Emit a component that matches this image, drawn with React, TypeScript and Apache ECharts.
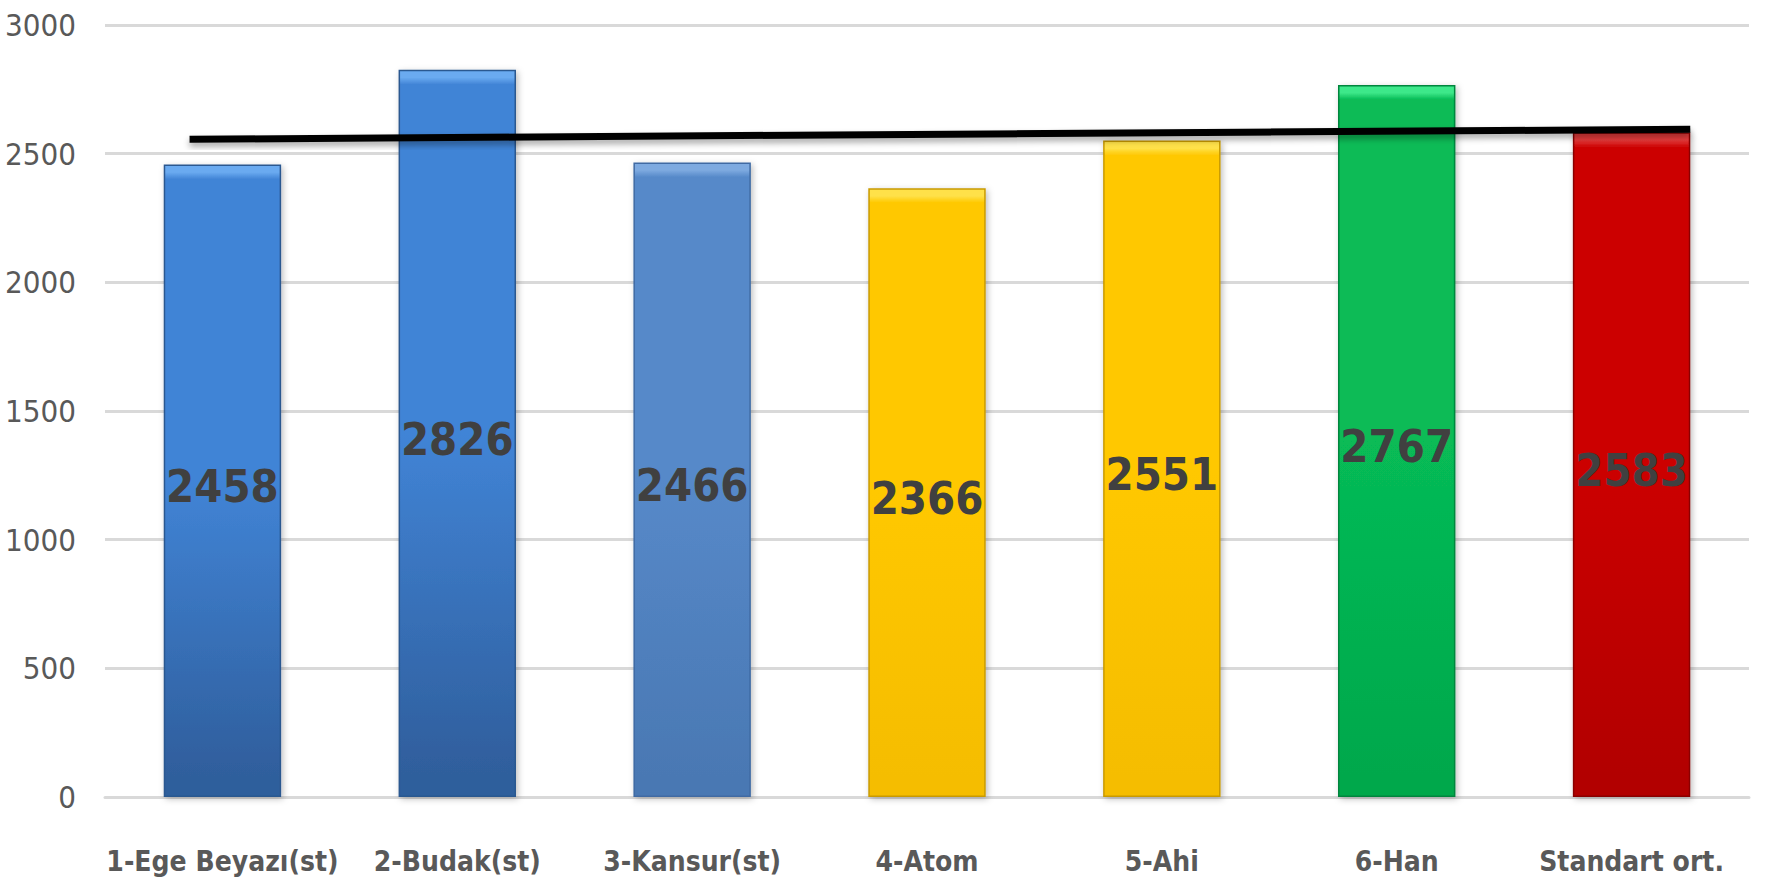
import React, { useEffect, useRef } from "react";
import * as echarts from "echarts";

const categories = [
  "1-Ege Beyazı(st)",
  "2-Budak(st)",
  "3-Kansur(st)",
  "4-Atom",
  "5-Ahi",
  "6-Han",
  "Standart ort.",
];
const values = [2458, 2826, 2466, 2366, 2551, 2767, 2583];
const yTicks = [0, 500, 1000, 1500, 2000, 2500, 3000];
// trend line end points (x in category units, centre of first category = 0)
const trendX = [-0.14, 6.25];
const trendY = [2556, 2595];

// bar colours: [highlight, main, dark]
const barColors = [
  ["#6aaaf0", "#4184d6", "#2f5e9c"],
  ["#6aaaf0", "#4184d6", "#2f5e9c"],
  ["#7eaae0", "#5689c9", "#4a78b3"],
  ["#ffe14a", "#ffc800", "#f5bd00"],
  ["#ffe14a", "#ffc800", "#f5bd00"],
  ["#3ee88a", "#07bb56", "#00a84c"],
  ["#e43a3a", "#cc0505", "#b20000"],
];
const borderColors = ["#2a5890", "#2a5890", "#3f6aa3", "#c99a00", "#c99a00", "#00853c", "#8a0000"];

const FONT = '"Liberation Sans Narrow", "DejaVu Sans Condensed", "Roboto", sans-serif';

export default function App() {
  const ref = useRef<HTMLDivElement>(null);
  useEffect(() => {
    document.body.style.margin = "0";
    const chart = echarts.init(ref.current!, null, { renderer: "svg" });
    const H = 887;
    const gridTop = 25,
      gridBottom = 90;
    const plotH = H - gridTop - gridBottom;
    const yMax = 3000;
    const barData = values.map((v, i) => {
      const px = (v / yMax) * plotH;
      const b = Math.min(0.2, 14 / px);
      const c = barColors[i];
      return {
        value: v,
        itemStyle: {
          color: new echarts.graphic.LinearGradient(0, 0, 0, 1, [
            { offset: 0, color: c[0] },
            { offset: b * 0.5, color: c[0] },
            { offset: b, color: c[1] },
            { offset: 0.5, color: c[1] },
            { offset: 0.97, color: c[2] },
            { offset: 1, color: c[2] },
          ]),
          borderColor: borderColors[i],
          borderWidth: 1.5,
          shadowColor: "rgba(0,0,0,0.25)",
          shadowBlur: 6,
          shadowOffsetX: 2,
          shadowOffsetY: 2,
        },
      };
    });
    const trendData = trendX.map((x, i) => [x, trendY[i]]);
    chart.setOption({
      animation: false,
      backgroundColor: "#ffffff",
      grid: {
        left: 105,
        right: 16,
        top: gridTop,
        bottom: gridBottom,
        containLabel: false,
        outerBoundsMode: "none",
      },
      xAxis: [
        {
          type: "category",
          data: categories,
          axisLine: { show: true, lineStyle: { color: "#d9d9d9", width: 3 } },
          axisTick: { show: false },
          axisLabel: {
            color: "#595959",
            fontFamily: FONT,
            fontWeight: "bold",
            fontSize: 28,
            margin: 50,
            interval: 0,
          },
        },
        {
          type: "value",
          min: -0.5,
          max: 6.5,
          show: false,
        },
      ],
      yAxis: {
        type: "value",
        min: yTicks[0],
        max: yTicks[yTicks.length - 1],
        interval: 500,
        axisLine: { show: false },
        axisTick: { show: false },
        splitLine: { lineStyle: { color: "#d9d9d9", width: 3 } },
        axisLabel: {
          color: "#595959",
          fontFamily: FONT,
          fontSize: 31,
          margin: 29,
          formatter: (v: number) => String(v),
        },
      },
      series: [
        {
          type: "bar",
          data: barData,
          barCategoryGap: "50%",
          xAxisIndex: 0,
          label: {
            show: true,
            position: "inside",
            offset: [0, 6],
            color: "#404040",
            fontFamily: FONT,
            fontWeight: "bold",
            fontSize: 45,
            formatter: (p: any) => String(p.value),
          },
        },
        {
          type: "line",
          xAxisIndex: 1,
          data: trendData,
          symbol: "none",
          z: 5,
          lineStyle: {
            color: "#000000",
            width: 7,
            shadowColor: "rgba(0,0,0,0.35)",
            shadowBlur: 6,
            shadowOffsetY: 4,
          },
        },
      ],
    });
    return () => chart.dispose();
  }, []);
  return <div ref={ref} style={{ width: 1765, height: 887 }} />;
}
